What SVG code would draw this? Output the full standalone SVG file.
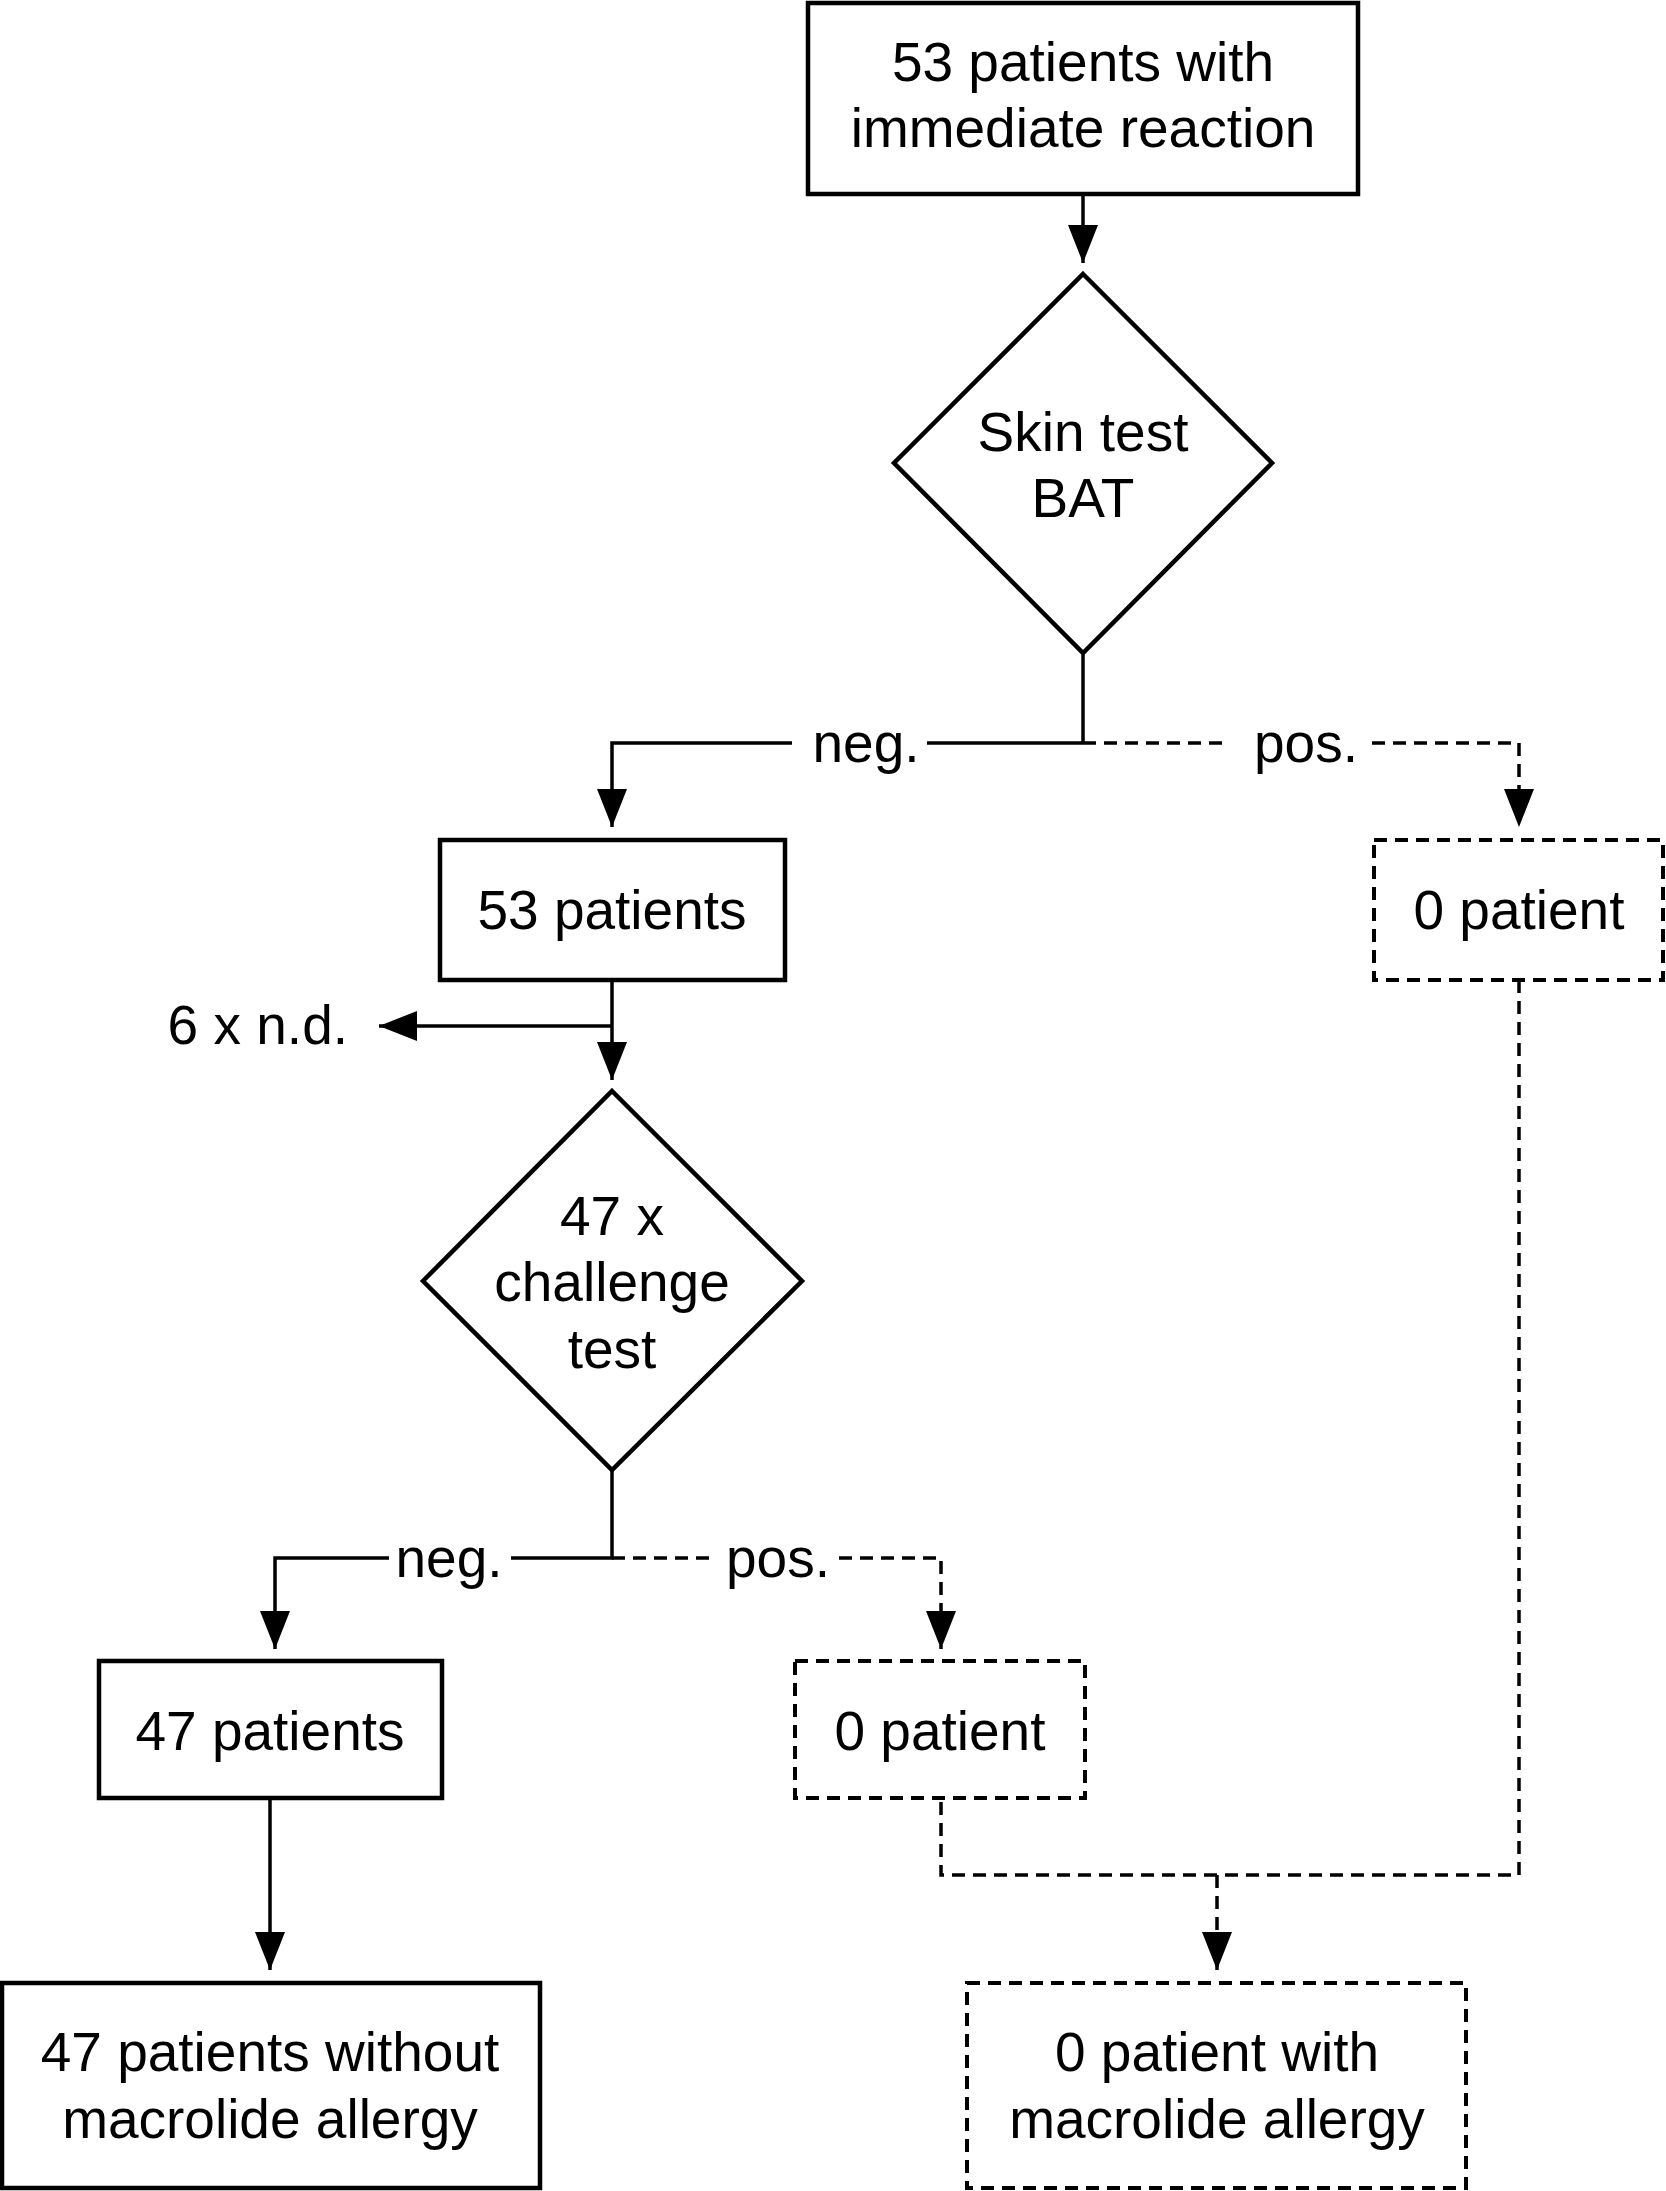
<svg xmlns="http://www.w3.org/2000/svg" width="1666" height="2191" viewBox="0 0 1666 2191">
<style>
.box{fill:#fff;stroke:#000;stroke-width:4.5}
.dbox{fill:#fff;stroke:#000;stroke-width:4;stroke-dasharray:13 8}
.ln{fill:none;stroke:#000;stroke-width:3.5}
.dl{fill:none;stroke:#000;stroke-width:3.5;stroke-dasharray:13 8}
text{font-family:"Liberation Sans",Arial,Helvetica,sans-serif;font-size:55px;fill:#000;text-anchor:middle}
</style>
<defs>
<marker id="ah" viewBox="0 0 38 30" refX="38" refY="15" markerWidth="38" markerHeight="30" markerUnits="userSpaceOnUse" orient="auto">
<path d="M0,0 L38,15 L0,30 z" fill="#000"/>
</marker>
</defs>
<rect width="1666" height="2191" fill="#fff"/>
<g id="connectors">
<path class="ln" d="M1083,194 V263" marker-end="url(#ah)"/>
<path class="ln" d="M1083,653 V743"/>
<path class="ln" d="M1083,743 H927"/>
<path class="ln" d="M792,743 H612 V827" marker-end="url(#ah)"/>
<path class="dl" d="M1083,743 H1230"/>
<path class="dl" d="M1372,743 H1519 V827" marker-end="url(#ah)"/>
<path class="ln" d="M612,980 V1080" marker-end="url(#ah)"/>
<path class="ln" d="M612,1026 H379" marker-end="url(#ah)"/>
<path class="ln" d="M612,1470 V1558 H511"/>
<path class="ln" d="M389,1558 H275 V1649" marker-end="url(#ah)"/>
<path class="dl" d="M612,1558 H716"/>
<path class="dl" d="M839,1558 H941 V1649" marker-end="url(#ah)"/>
<path class="ln" d="M270,1798 V1970" marker-end="url(#ah)"/>
<path class="dl" d="M1519,980 V1875 H941 V1798"/>
<path class="dl" d="M1217,1875 V1970" marker-end="url(#ah)"/>
</g>
<g id="lbl-neg1"><text x="866" y="762">neg.</text></g>
<g id="lbl-pos1"><text x="1306" y="762">pos.</text></g>
<g id="lbl-nd"><text x="348" y="1044" style="text-anchor:end">6 x n.d.</text></g>
<g id="lbl-neg2"><text x="449" y="1577">neg.</text></g>
<g id="lbl-pos2"><text x="778" y="1577">pos.</text></g>
<g id="n-start">
<rect class="box" x="808" y="3" width="550" height="191"/>
<text x="1083" y="81">53 patients with</text>
<text x="1083" y="147">immediate reaction</text>
</g>
<g id="n-skin">
<polygon class="box" points="1083,274 1272,463 1083,653 894,463"/>
<text x="1083" y="451">Skin test</text>
<text x="1083" y="517">BAT</text>
</g>
<g id="n-53">
<rect class="box" x="440" y="840" width="345" height="140"/>
<text x="612" y="929">53 patients</text>
</g>
<g id="n-0a">
<rect class="dbox" x="1374" y="840" width="289" height="140"/>
<text x="1519" y="929">0 patient</text>
</g>
<g id="n-challenge">
<polygon class="box" points="612,1091 802,1281 612,1470 423,1281"/>
<text x="612" y="1235">47 x</text>
<text x="612" y="1301">challenge</text>
<text x="612" y="1368">test</text>
</g>
<g id="n-47">
<rect class="box" x="99" y="1661" width="343" height="137"/>
<text x="270" y="1750">47 patients</text>
</g>
<g id="n-0b">
<rect class="dbox" x="795" y="1661" width="290" height="137"/>
<text x="940" y="1750">0 patient</text>
</g>
<g id="n-without">
<rect class="box" x="2" y="1983" width="538" height="205"/>
<text x="270" y="2071">47 patients without</text>
<text x="270" y="2138">macrolide allergy</text>
</g>
<g id="n-with">
<rect class="dbox" x="967" y="1983" width="499" height="205"/>
<text x="1217" y="2071">0 patient with</text>
<text x="1217" y="2138">macrolide allergy</text>
</g>
</svg>
